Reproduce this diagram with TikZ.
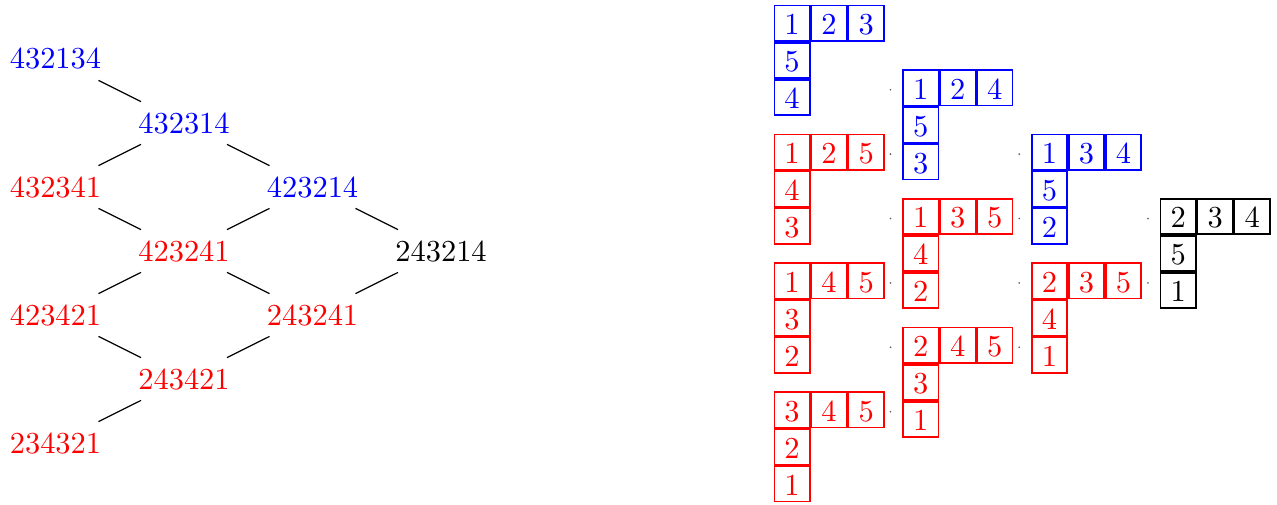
\documentclass[tikz,border=0pt]{standalone}
\definecolor{tblue}{RGB}{0,0,255}
\definecolor{tred}{RGB}{255,0,0}
\tikzset{
  word/.style={inner sep=3.33pt},
  cell/.style={draw, line width=0.55pt, minimum size=11.6pt, inner sep=0pt,
    text height=7.4pt, text depth=0pt, anchor=north west},
  tdot/.style={circle, fill=black!65, inner sep=0pt, minimum size=0.6pt},
}
% #1 name, #2 x, #3 y, #4 colour, #5-#9 entries
\newcommand\ytab[9]{%
  \node[cell,#4] (#1a) at (#2,#3) {#5};
  \node[cell,#4,anchor=west] (#1b) at (#1a.east) {#6};
  \node[cell,#4,anchor=west] (#1c) at (#1b.east) {#7};
  \node[cell,#4,anchor=north] (#1d) at (#1a.south) {#8};
  \node[cell,#4,anchor=north] (#1e) at (#1d.south) {#9};
}
\begin{document}
\begin{tikzpicture}[x=0.328pt,y=-0.328pt]
\useasboundingbox (0,0) rectangle (1277,504);
% poset of words
\node[word,tblue] (w1) at (55.5,59) {432134};
\node[word,tblue] (w2) at (184,123) {432314};
\node[word,tred] (w3) at (55.5,187) {432341};
\node[word,tblue] (w4) at (312.5,187) {423214};
\node[word,tred] (w5) at (184,251) {423241};
\node[word] (w6) at (441,251) {243214};
\node[word,tred] (w7) at (55.5,315) {423421};
\node[word,tred] (w8) at (312.5,315) {243241};
\node[word,tred] (w9) at (184,379) {243421};
\node[word,tred] (w10) at (55.5,443) {234321};
\draw (w1) -- (w2);
\draw (w2) -- (w3);
\draw (w2) -- (w4);
\draw (w3) -- (w5);
\draw (w4) -- (w5);
\draw (w4) -- (w6);
\draw (w5) -- (w7);
\draw (w5) -- (w8);
\draw (w6) -- (w8);
\draw (w7) -- (w9);
\draw (w8) -- (w9);
\draw (w9) -- (w10);
% tableaux: columns at 773 + 128.7 c, rows at 4.3 + 64.4 r
\ytab{t1}{773.5}{4.8}{tblue}{1}{2}{3}{5}{4}
\ytab{t2}{773.5}{133.6}{tred}{1}{2}{5}{4}{3}
\ytab{t3}{773.5}{262.4}{tred}{1}{4}{5}{3}{2}
\ytab{t4}{773.5}{391.2}{tred}{3}{4}{5}{2}{1}
\ytab{t5}{902.2}{69.2}{tblue}{1}{2}{4}{5}{3}
\ytab{t6}{902.2}{198.0}{tred}{1}{3}{5}{4}{2}
\ytab{t7}{902.2}{326.8}{tred}{2}{4}{5}{3}{1}
\ytab{t8}{1030.9}{133.6}{tblue}{1}{3}{4}{5}{2}
\ytab{t9}{1030.9}{262.4}{tred}{2}{3}{5}{4}{1}
\ytab{t10}{1159.6}{198.0}{black}{2}{3}{4}{5}{1}
% small dots
\foreach \r in {1,...,6} {\node[tdot] (da\r) at (890.5,{25.3+64.4*\r}) {};}
\foreach \r in {2,...,5} {\node[tdot] (db\r) at (1019.2,{25.3+64.4*\r}) {};}
\foreach \r in {3,4} {\node[tdot] (dc\r) at (1147.9,{25.3+64.4*\r}) {};}
\end{tikzpicture}
\end{document}
